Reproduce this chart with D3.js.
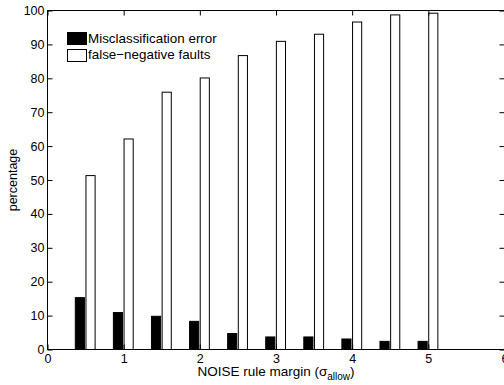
<!DOCTYPE html>
<html><head><meta charset="utf-8">
<script src="https://cdn.jsdelivr.net/npm/d3@7"></script>
<style>body{margin:0;background:#fff}svg{display:block}text{font-family:"Liberation Sans",Arial,sans-serif}</style>
</head><body>
<svg id="c" width="504" height="385"></svg>
<script>
const margins = [0.5, 1, 1.5, 2, 2.5, 3, 3.5, 4, 4.5, 5];
const misclassification = [15.3, 10.9, 9.8, 8.3, 4.7, 3.7, 3.7, 3.1, 2.4, 2.4];
const falseNegative = [51.3, 62.1, 75.9, 80.1, 86.7, 90.9, 93.0, 96.6, 98.7, 99.2];
const xTicks = [0, 1, 2, 3, 4, 5, 6];
const yTicks = [0, 10, 20, 30, 40, 50, 60, 70, 80, 90, 100];
const seriesNames = ["Misclassification error", "false\u2212negative faults"];

const svg = d3.select("#c");
const L = 47.5, R = 504.5, T = 10.5, B = 349.5;
const x = d3.scaleLinear().domain([0, 6]).range([L, R]);
const y = d3.scaleLinear().domain([0, 100]).range([B, T]);

// bars
const g = svg.append("g");
g.selectAll("rect.m").data(margins).join("rect")
  .attr("x", (d) => x(d - 0.135)).attr("width", x(0.12) - x(0))
  .attr("y", (d, i) => y(misclassification[i]))
  .attr("height", (d, i) => y(0) - y(misclassification[i]))
  .attr("fill", "#000").attr("stroke", "#000").attr("stroke-width", 1);
g.selectAll("rect.f").data(margins).join("rect")
  .attr("x", (d) => x(d + 0.005)).attr("width", x(0.12) - x(0))
  .attr("y", (d, i) => y(falseNegative[i]))
  .attr("height", (d, i) => y(0) - y(falseNegative[i]))
  .attr("fill", "#fff").attr("stroke", "#000").attr("stroke-width", 1);

// axes
const fs = 12.5;
svg.append("g").attr("transform", `translate(0,${B})`)
  .call(d3.axisBottom(x).tickValues(xTicks).tickSize(-5).tickPadding(5).tickFormat(d3.format("d")))
  .call(a => a.select(".domain").remove());
svg.append("g").attr("transform", `translate(0,${T})`)
  .call(d3.axisTop(x).tickValues(xTicks).tickSize(-5).tickFormat(""))
  .call(a => a.select(".domain").remove());
svg.append("g").attr("transform", `translate(${L},0)`)
  .call(d3.axisLeft(y).tickValues(yTicks).tickSize(-5).tickPadding(3).tickFormat(d3.format("d")))
  .call(a => a.select(".domain").remove());
svg.append("g").attr("transform", `translate(${R},0)`)
  .call(d3.axisRight(y).tickValues(yTicks).tickSize(-5).tickFormat(""))
  .call(a => a.select(".domain").remove());
svg.selectAll("g.tick text").attr("font-size", fs).attr("fill", "#000")
  .attr("font-family", "'Liberation Sans',Arial,sans-serif");
svg.selectAll("g.tick line").attr("stroke", "#000");

// frame
svg.append("rect").attr("x", L).attr("y", T).attr("width", R - L).attr("height", B - T)
  .attr("fill", "none").attr("stroke", "#000").attr("stroke-width", 1);

// labels
svg.append("text").attr("transform", "translate(17,180) rotate(-90)")
  .attr("text-anchor", "middle").attr("font-size", 12.5).text("percentage");
const xl = svg.append("text").attr("x", 276).attr("y", 376).attr("text-anchor", "middle").attr("font-size", 13.5);
xl.append("tspan").text("NOISE rule margin (\u03c3");
xl.append("tspan").attr("font-size", 10).attr("dy", 4).text("allow");
xl.append("tspan").attr("dy", -4).text(")");

// legend
const lg = svg.append("g");
seriesNames.forEach((s, i) => {
  lg.append("rect").attr("x", 67.5).attr("y", 32.5 + i * 17).attr("width", 19).attr("height", 12)
    .attr("fill", i === 0 ? "#000" : "#fff").attr("stroke", "#000");
  lg.append("text").attr("x", 88).attr("y", 43 + i * 16).attr("font-size", 13.4).text(s);
});
</script>
</body></html>
